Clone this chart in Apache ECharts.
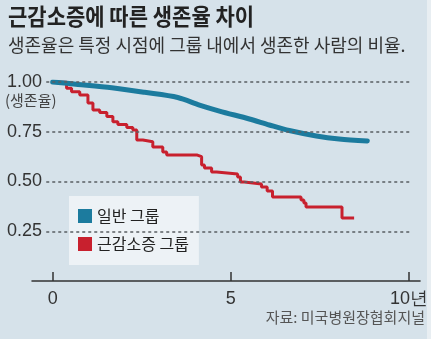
<!DOCTYPE html>
<html>
<head>
<meta charset="utf-8">
<script src="https://cdn.jsdelivr.net/npm/echarts@6/dist/echarts.min.js"></script>
<style>
html,body{margin:0;padding:0;background:#d6e2ea;}
#c{width:431px;height:339px;}
</style>
</head>
<body>
<div id="c"></div>
<script>
// ---- data ----
var titleText = '근감소증에 따른 생존율 차이';
var subtitleText = '생존율은 특정 시점에 그룹 내에서 생존한 사람의 비율.';
var sourceText = '자료: 미국병원장협회지널';
var yUnitText = '(생존율)';
var seriesNames = ['일반 그룹', '근감소증 그룹'];
var xTickValues = [0, 5, 10];
var xTickLabels = ['0', '5', '10년'];
var yTickValues = [0.25, 0.5, 0.75, 1.0];
var yTickLabels = ['0.25', '0.50', '0.75', '1.00'];

// 일반 그룹 (years, survival)
var normalYears = [0, 0.71, 1.66, 2.58, 3.51, 4.12, 4.68, 5.52, 6.08, 6.64, 7.40, 8.04, 8.83];
var normalSurv  = [1.0, 0.988, 0.971, 0.948, 0.922, 0.884, 0.854, 0.814, 0.784, 0.756, 0.729, 0.714, 0.704];

// 근감소증 그룹 (years, survival) — Kaplan-Meier steps
var sarcYears = [0, 0.39, 0.53, 0.76, 0.99, 1.13, 1.32, 1.52, 1.69, 1.83, 2.08, 2.25, 2.36, 2.53, 2.81, 3.09, 3.20, 4.06, 4.18, 4.26, 4.46, 4.60, 5.19, 5.27, 5.38, 5.86, 6.02, 6.17, 6.97, 7.05, 7.11, 8.12, 8.46];
var sarcSurv  = [1.0, 0.968, 0.951, 0.935, 0.894, 0.859, 0.847, 0.827, 0.80, 0.786, 0.771, 0.759, 0.709, 0.70, 0.673, 0.648, 0.633, 0.625, 0.583, 0.568, 0.548, 0.538, 0.523, 0.497, 0.487, 0.472, 0.452, 0.422, 0.407, 0.392, 0.372, 0.317, 0.317];

function zip(a, b) { return a.map(function (v, i) { return [v, b[i]]; }); }

var KR = '"Noto Sans CJK KR", "Noto Sans", sans-serif';
var NUM = '"Liberation Sans", Roboto, sans-serif';

var chart = echarts.init(document.getElementById('c'), null, {renderer: 'canvas'});

var gridLineData = yTickValues.map(function (v) {
  return [{coord: [-0.18, v]}, {coord: [10.08, v]}];
});

chart.setOption({
  backgroundColor: '#d6e2ea',
  animation: false,
  grid: {left: 32, right: 10, top: 82, bottom: 58, containLabel: false},
  xAxis: {
    type: 'value', min: -0.58, max: 10.31,
    axisLine: {show: true, lineStyle: {color: '#333', width: 1.5}},
    axisTick: {show: true, inside: true, length: 9, customValues: xTickValues, lineStyle: {color: '#333', width: 1.5}},
    axisLabel: {
      customValues: xTickValues, margin: 9,
      color: '#333', fontSize: 18, fontFamily: NUM,
      formatter: function (v) { var i = xTickValues.indexOf(v); return i >= 0 ? xTickLabels[i] : ''; }
    },
    splitLine: {show: false}
  },
  yAxis: {
    type: 'value', min: 0, max: 1, interval: 0.25, offset: -10,
    axisLine: {show: false}, axisTick: {show: false}, splitLine: {show: false},
    axisLabel: {
      margin: 0, color: '#333', fontSize: 18, fontFamily: NUM,
      formatter: function (v) {
        for (var i = 0; i < yTickValues.length; i++) { if (Math.abs(yTickValues[i] - v) < 1e-6) return yTickLabels[i]; }
        return '';
      }
    }
  },
  legend: {
    data: seriesNames,
    orient: 'vertical', left: 69, top: 196,
    icon: 'rect', itemWidth: 14, itemHeight: 14, itemGap: 12,
    padding: [12, 10, 13, 9],
    backgroundColor: '#edf2f6',
    textStyle: {fontSize: 16, color: '#222', fontFamily: KR}
  },
  series: [
    {
      name: 'grid', type: 'line', data: [], silent: true, z: 1,
      markLine: {
        silent: true, symbol: ['none', 'none'], label: {show: false},
        lineStyle: {type: [3, 3], color: '#5a5f63', width: 1.5},
        data: gridLineData, animation: false
      }
    },
    {
      name: seriesNames[0], type: 'line', data: zip(normalYears, normalSurv),
      smooth: 0.3, showSymbol: false, z: 3,
      itemStyle: {color: '#1c7b9e'},
      lineStyle: {color: '#1c7b9e', width: 5, cap: 'round'}
    },
    {
      name: seriesNames[1], type: 'line', data: zip(sarcYears, sarcSurv),
      step: 'end', showSymbol: false, z: 2,
      itemStyle: {color: '#c8202e'},
      lineStyle: {color: '#c8202e', width: 3}
    }
  ],
  graphic: [
    {type: 'text', left: 8, top: 5, scaleY: 1.1, style: {text: titleText, font: 'bold 21px ' + KR, fill: '#222'}},
    {type: 'text', left: 8, top: 36, style: {text: subtitleText, font: '18px ' + KR, fill: '#333'}},
    {type: 'text', left: 5, top: 93, style: {text: yUnitText, font: '15px ' + KR, fill: '#444'}},
    {type: 'text', right: 6, top: 310, style: {text: sourceText, font: '15px ' + KR, fill: '#555'}},
    {type: 'rect', right: 0, top: 0, shape: {width: 4, height: 339}, style: {fill: '#e8eef2'}}
  ]
});
</script>
</body>
</html>
